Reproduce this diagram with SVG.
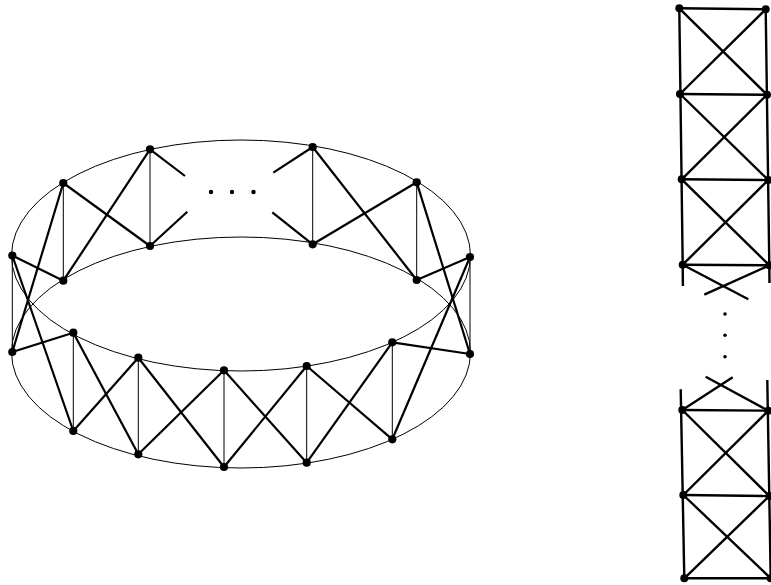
<svg xmlns="http://www.w3.org/2000/svg" width="771" height="585" viewBox="0 0 771 585">
<style>
.rim{fill:none;stroke:#000;stroke-width:1}
.thin{stroke:#000;stroke-width:1;fill:none}
.thick{stroke:#000;stroke-width:2.2;fill:none;stroke-linecap:butt}
.lad{stroke:#000;stroke-width:2.4;fill:none}
.node{fill:#000}
</style>
<rect width="771" height="585" fill="#fff"/>
<g id="rims">
<ellipse class="rim" cx="241" cy="255.5" rx="229.5" ry="115.5"/>
<ellipse class="rim" cx="241" cy="352.5" rx="229.5" ry="115.5"/>
</g>
<g id="connectors">
<g class="thin">
<line x1="150" y1="149.3" x2="150" y2="246"/>
<line x1="63.3" y1="183" x2="63.3" y2="280.7"/>
<line x1="12.3" y1="255.5" x2="12.3" y2="352"/>
<line x1="73.3" y1="332.7" x2="73.3" y2="431"/>
<line x1="138.3" y1="357.7" x2="138.3" y2="454.3"/>
<line x1="224" y1="370.3" x2="224" y2="467"/>
<line x1="306.7" y1="366" x2="306.7" y2="462.7"/>
<line x1="392.3" y1="342.3" x2="392.3" y2="439.3"/>
<line x1="470" y1="257" x2="470" y2="354"/>
<line x1="416.7" y1="182.3" x2="416.7" y2="280"/>
<line x1="312.7" y1="147" x2="312.7" y2="244.3"/>
</g>
<g class="thick">
<line x1="150" y1="149.3" x2="63.3" y2="280.7"/>
<line x1="150" y1="246" x2="63.3" y2="183"/>
<line x1="63.3" y1="183" x2="12.3" y2="352"/>
<line x1="63.3" y1="280.7" x2="12.3" y2="255.5"/>
<line x1="12.3" y1="255.5" x2="73.3" y2="431"/>
<line x1="12.3" y1="352" x2="73.3" y2="332.7"/>
<line x1="73.3" y1="332.7" x2="138.3" y2="454.3"/>
<line x1="73.3" y1="431" x2="138.3" y2="357.7"/>
<line x1="138.3" y1="357.7" x2="224" y2="467"/>
<line x1="138.3" y1="454.3" x2="224" y2="370.3"/>
<line x1="224" y1="370.3" x2="306.7" y2="462.7"/>
<line x1="224" y1="467" x2="306.7" y2="366"/>
<line x1="306.7" y1="366" x2="392.3" y2="439.3"/>
<line x1="306.7" y1="462.7" x2="392.3" y2="342.3"/>
<line x1="392.3" y1="342.3" x2="470" y2="354"/>
<line x1="392.3" y1="439.3" x2="470" y2="257"/>
<line x1="470" y1="257" x2="416.7" y2="280"/>
<line x1="470" y1="354" x2="416.7" y2="182.3"/>
<line x1="416.7" y1="182.3" x2="312.7" y2="244.3"/>
<line x1="416.7" y1="280" x2="312.7" y2="147"/>
<line x1="150" y1="149.3" x2="185" y2="176"/>
<line x1="150" y1="246" x2="187.3" y2="211.7"/>
<line x1="312.7" y1="147" x2="273.3" y2="172.7"/>
<line x1="312.7" y1="244.3" x2="272.3" y2="212.3"/>
</g>
<g class="lad">
<line x1="679.3" y1="8.3" x2="765.7" y2="9.3"/>
<line x1="680" y1="94" x2="767" y2="94.7"/>
<line x1="681.7" y1="179.3" x2="768.3" y2="180"/>
<line x1="682.7" y1="264.7" x2="769.3" y2="265.3"/>
<line x1="679.3" y1="8.3" x2="682.7" y2="264.7"/>
<line x1="765.7" y1="9.3" x2="769.3" y2="265.3"/>
<line x1="682.7" y1="264.7" x2="682.9" y2="286"/>
<line x1="769.3" y1="265.3" x2="769.5" y2="283"/>
<line x1="679.3" y1="8.3" x2="767" y2="94.7"/>
<line x1="765.7" y1="9.3" x2="680" y2="94"/>
<line x1="680" y1="94" x2="768.3" y2="180"/>
<line x1="767" y1="94.7" x2="681.7" y2="179.3"/>
<line x1="681.7" y1="179.3" x2="769.3" y2="265.3"/>
<line x1="768.3" y1="180" x2="682.7" y2="264.7"/>
<line x1="682.7" y1="264.7" x2="748.3" y2="299.3"/>
<line x1="769.3" y1="265.3" x2="704.3" y2="294.7"/>
<line x1="705.7" y1="376.7" x2="768.3" y2="410.7"/>
<line x1="732.7" y1="377.3" x2="682.3" y2="410"/>
<line x1="680.7" y1="389.3" x2="684.3" y2="578.3"/>
<line x1="767.3" y1="380" x2="770.7" y2="578.3"/>
<line x1="682.3" y1="410" x2="768.3" y2="410.7"/>
<line x1="683.3" y1="495" x2="769.3" y2="496"/>
<line x1="684.3" y1="578.3" x2="770.7" y2="578.3"/>
<line x1="682.3" y1="410" x2="769.3" y2="496"/>
<line x1="768.3" y1="410.7" x2="683.3" y2="495"/>
<line x1="683.3" y1="495" x2="770.7" y2="578.3"/>
<line x1="769.3" y1="496" x2="684.3" y2="578.3"/>
</g>
</g>
<g id="ellipsis-ring" class="node">
<circle cx="211" cy="192" r="2.2"/>
<circle cx="232" cy="192" r="2.2"/>
<circle cx="253.5" cy="192" r="2.2"/>
</g>
<g id="ellipsis-ladder" class="node">
<circle cx="725" cy="314" r="1.8"/>
<circle cx="725" cy="335.3" r="1.8"/>
<circle cx="725" cy="356.7" r="1.8"/>
</g>
<g id="T1"><circle class="node" cx="150" cy="149.3" r="4.1"/></g>
<g id="T2"><circle class="node" cx="63.3" cy="183" r="4.1"/></g>
<g id="T3"><circle class="node" cx="12.3" cy="255.5" r="4.1"/></g>
<g id="T4"><circle class="node" cx="73.3" cy="332.7" r="4.1"/></g>
<g id="T5"><circle class="node" cx="138.3" cy="357.7" r="4.1"/></g>
<g id="T6"><circle class="node" cx="224" cy="370.3" r="4.1"/></g>
<g id="T7"><circle class="node" cx="306.7" cy="366" r="4.1"/></g>
<g id="T8"><circle class="node" cx="392.3" cy="342.3" r="4.1"/></g>
<g id="T9"><circle class="node" cx="470" cy="257" r="4.1"/></g>
<g id="T10"><circle class="node" cx="416.7" cy="182.3" r="4.1"/></g>
<g id="T11"><circle class="node" cx="312.7" cy="147" r="4.1"/></g>
<g id="B1"><circle class="node" cx="150" cy="246" r="4.1"/></g>
<g id="B2"><circle class="node" cx="63.3" cy="280.7" r="4.1"/></g>
<g id="B3"><circle class="node" cx="12.3" cy="352" r="4.1"/></g>
<g id="B4"><circle class="node" cx="73.3" cy="431" r="4.1"/></g>
<g id="B5"><circle class="node" cx="138.3" cy="454.3" r="4.1"/></g>
<g id="B6"><circle class="node" cx="224" cy="467" r="4.1"/></g>
<g id="B7"><circle class="node" cx="306.7" cy="462.7" r="4.1"/></g>
<g id="B8"><circle class="node" cx="392.3" cy="439.3" r="4.1"/></g>
<g id="B9"><circle class="node" cx="470" cy="354" r="4.1"/></g>
<g id="B10"><circle class="node" cx="416.7" cy="280" r="4.1"/></g>
<g id="B11"><circle class="node" cx="312.7" cy="244.3" r="4.1"/></g>
<g id="L1"><circle class="node" cx="679.3" cy="8.3" r="4"/></g>
<g id="R1"><circle class="node" cx="765.7" cy="9.3" r="4"/></g>
<g id="L2"><circle class="node" cx="680" cy="94" r="4"/></g>
<g id="R2"><circle class="node" cx="767" cy="94.7" r="4"/></g>
<g id="L3"><circle class="node" cx="681.7" cy="179.3" r="4"/></g>
<g id="R3"><circle class="node" cx="768.3" cy="180" r="4"/></g>
<g id="L4"><circle class="node" cx="682.7" cy="264.7" r="4"/></g>
<g id="R4"><circle class="node" cx="769.3" cy="265.3" r="4"/></g>
<g id="L5"><circle class="node" cx="682.3" cy="410" r="4"/></g>
<g id="R5"><circle class="node" cx="768.3" cy="410.7" r="4"/></g>
<g id="L6"><circle class="node" cx="683.3" cy="495" r="4"/></g>
<g id="R6"><circle class="node" cx="769.3" cy="496" r="4"/></g>
<g id="L7"><circle class="node" cx="684.3" cy="578.3" r="4"/></g>
<g id="R7"><circle class="node" cx="770.7" cy="578.3" r="4"/></g>
</svg>
